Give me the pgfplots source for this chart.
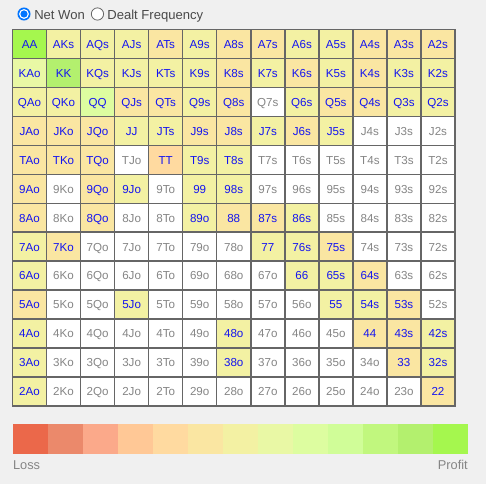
\documentclass[border=0pt]{standalone}
\usepackage{pgfplots}
\pgfplotsset{compat=1.18}
\usepackage{pgfplotstable}
\usepackage{fontspec}
\setmainfont{Liberation Sans}
\definecolor{bgcol}{HTML}{F0F0F0}
\definecolor{gridcol}{HTML}{666666}
\definecolor{lblblue}{HTML}{1414F0}
\definecolor{lblgray}{HTML}{858585}
\definecolor{hdrcol}{HTML}{4A4A4A}
\definecolor{radioblue}{HTML}{0075FF}
\definecolor{lc1}{HTML}{EB684A}
\definecolor{lc2}{HTML}{EB896B}
\definecolor{lc3}{HTML}{FBA98A}
\definecolor{lc4}{HTML}{FFC896}
\definecolor{lc5}{HTML}{FFDAA0}
\definecolor{lc6}{HTML}{FAE6A2}
\definecolor{lc7}{HTML}{F3F1A3}
\definecolor{lc8}{HTML}{E9F8A5}
\definecolor{lc9}{HTML}{DDFDA0}
\definecolor{lc10}{HTML}{D0FD98}
\definecolor{lc11}{HTML}{C1F77E}
\definecolor{lc12}{HTML}{B3F06E}
\definecolor{lc13}{HTML}{A5F74E}
\pgfplotstableread{
x y c label
0 0 13 AA
1 0 7 AKs
2 0 7 AQs
3 0 7 AJs
4 0 6 ATs
5 0 7 A9s
6 0 6 A8s
7 0 6 A7s
8 0 7 A6s
9 0 7 A5s
10 0 6 A4s
11 0 6 A3s
12 0 6 A2s
0 1 8 KAo
1 1 12 KK
2 1 7 KQs
3 1 7 KJs
4 1 7 KTs
5 1 7 K9s
6 1 6 K8s
7 1 7 K7s
8 1 6 K6s
9 1 7 K5s
10 1 6 K4s
11 1 7 K3s
12 1 7 K2s
0 2 7 QAo
1 2 7 QKo
2 2 9 QQ
3 2 6 QJs
4 2 6 QTs
5 2 7 Q9s
6 2 6 Q8s
7 2 0 Q7s
8 2 7 Q6s
9 2 6 Q5s
10 2 6 Q4s
11 2 7 Q3s
12 2 7 Q2s
0 3 6 JAo
1 3 6 JKo
2 3 6 JQo
3 3 7 JJ
4 3 7 JTs
5 3 6 J9s
6 3 6 J8s
7 3 7 J7s
8 3 6 J6s
9 3 7 J5s
10 3 0 J4s
11 3 0 J3s
12 3 0 J2s
0 4 6 TAo
1 4 6 TKo
2 4 6 TQo
3 4 0 TJo
4 4 5 TT
5 4 7 T9s
6 4 7 T8s
7 4 0 T7s
8 4 0 T6s
9 4 0 T5s
10 4 0 T4s
11 4 0 T3s
12 4 0 T2s
0 5 6 9Ao
1 5 0 9Ko
2 5 6 9Qo
3 5 7 9Jo
4 5 0 9To
5 5 7 99
6 5 7 98s
7 5 0 97s
8 5 0 96s
9 5 0 95s
10 5 0 94s
11 5 0 93s
12 5 0 92s
0 6 6 8Ao
1 6 0 8Ko
2 6 6 8Qo
3 6 0 8Jo
4 6 0 8To
5 6 7 89o
6 6 6 88
7 6 6 87s
8 6 7 86s
9 6 0 85s
10 6 0 84s
11 6 0 83s
12 6 0 82s
0 7 7 7Ao
1 7 6 7Ko
2 7 0 7Qo
3 7 0 7Jo
4 7 0 7To
5 7 0 79o
6 7 0 78o
7 7 7 77
8 7 7 76s
9 7 6 75s
10 7 0 74s
11 7 0 73s
12 7 0 72s
0 8 7 6Ao
1 8 0 6Ko
2 8 0 6Qo
3 8 0 6Jo
4 8 0 6To
5 8 0 69o
6 8 0 68o
7 8 0 67o
8 8 7 66
9 8 7 65s
10 8 6 64s
11 8 0 63s
12 8 0 62s
0 9 6 5Ao
1 9 0 5Ko
2 9 0 5Qo
3 9 7 5Jo
4 9 0 5To
5 9 0 59o
6 9 0 58o
7 9 0 57o
8 9 0 56o
9 9 7 55
10 9 7 54s
11 9 6 53s
12 9 0 52s
0 10 7 4Ao
1 10 0 4Ko
2 10 0 4Qo
3 10 0 4Jo
4 10 0 4To
5 10 0 49o
6 10 7 48o
7 10 0 47o
8 10 0 46o
9 10 0 45o
10 10 6 44
11 10 6 43s
12 10 7 42s
0 11 7 3Ao
1 11 0 3Ko
2 11 0 3Qo
3 11 0 3Jo
4 11 0 3To
5 11 0 39o
6 11 7 38o
7 11 0 37o
8 11 0 36o
9 11 0 35o
10 11 0 34o
11 11 6 33
12 11 7 32s
0 12 7 2Ao
1 12 0 2Ko
2 12 0 2Qo
3 12 0 2Jo
4 12 0 2To
5 12 0 29o
6 12 0 28o
7 12 0 27o
8 12 0 26o
9 12 0 25o
10 12 0 24o
11 12 0 23o
12 12 6 22
}\handtable
\begin{document}
\begin{tikzpicture}
\path[use as bounding box] (0,0) rectangle (364.5pt,-363pt);
\fill[bgcol] (0,0) rectangle (364.5pt,-363pt);
% radio buttons
\fill[radioblue] (18pt,-10.5pt) circle (4.9pt);
\fill[white] (18pt,-10.5pt) circle (3.7pt);
\fill[radioblue] (18pt,-10.5pt) circle (2.7pt);
\node[anchor=base west, inner sep=0pt, text=hdrcol, font=\fontsize{9.8pt}{11pt}\selectfont] at (25.5pt,-14.6pt) {Net Won};
\filldraw[fill=white, draw=gray!80!black, line width=0.6pt] (73.1pt,-10.5pt) circle (4.6pt);
\node[anchor=base west, inner sep=0pt, text=hdrcol, font=\fontsize{9.8pt}{11pt}\selectfont] at (80.3pt,-14.6pt) {Dealt Frequency};
\begin{axis}[
  at={(9.375pt,-22.125pt)}, anchor=north west,
  scale only axis, width=331.875pt, height=282.375pt,
  xmin=-0.5, xmax=12.5, ymin=-0.5, ymax=12.5, y dir=reverse,
  xtick={-0.5,0.5,...,12.5}, ytick={-0.5,0.5,...,12.5},
  xticklabels={}, yticklabels={},
  major tick length=0pt,
  grid=major, major grid style={draw=gridcol, line width=1.1pt},
  axis line style={draw=gridcol, line width=1.1pt},
  axis on top,
  colormap={poker}{rgb255=(255,255,255) rgb255=(235,104,74) rgb255=(235,137,107) rgb255=(251,169,138) rgb255=(255,200,150) rgb255=(255,218,160) rgb255=(250,230,162) rgb255=(243,241,163) rgb255=(233,248,165) rgb255=(221,253,160) rgb255=(208,253,152) rgb255=(193,247,126) rgb255=(179,240,110) rgb255=(165,247,78)},
  colormap access=direct,
]
\addplot[matrix plot*, mesh/cols=13, point meta=explicit] table[x=x, y=y, meta=c] {\handtable};
\addplot[only marks, mark=*, mark size=0pt, point meta=explicit symbolic,
  restrict expr to domain={\thisrow{c}}{0.5:20},
  nodes near coords, 
  nodes near coords style={anchor=mid, yshift=-0.6pt, inner sep=0pt, text=lblblue, font=\fontsize{8.7pt}{10pt}\selectfont}]
  table[x=x, y=y, meta=label] {\handtable};
\addplot[only marks, mark=*, mark size=0pt, point meta=explicit symbolic,
  restrict expr to domain={\thisrow{c}}{-0.5:0.5},
  nodes near coords, 
  nodes near coords style={anchor=mid, yshift=-0.6pt, inner sep=0pt, text=lblgray, font=\fontsize{8.7pt}{10pt}\selectfont}]
  table[x=x, y=y, meta=label] {\handtable};
\end{axis}
\begin{axis}[
  at={(9.5pt,-318pt)}, anchor=north west,
  scale only axis, width=341.5pt, height=22.5pt,
  xmin=0, xmax=13, ymin=0, ymax=1, hide axis,
]
\addplot[fill=lc1, draw=none] coordinates {(0,1) (1.02,1)} \closedcycle;
\addplot[fill=lc2, draw=none] coordinates {(1,1) (2.02,1)} \closedcycle;
\addplot[fill=lc3, draw=none] coordinates {(2,1) (3.02,1)} \closedcycle;
\addplot[fill=lc4, draw=none] coordinates {(3,1) (4.02,1)} \closedcycle;
\addplot[fill=lc5, draw=none] coordinates {(4,1) (5.02,1)} \closedcycle;
\addplot[fill=lc6, draw=none] coordinates {(5,1) (6.02,1)} \closedcycle;
\addplot[fill=lc7, draw=none] coordinates {(6,1) (7.02,1)} \closedcycle;
\addplot[fill=lc8, draw=none] coordinates {(7,1) (8.02,1)} \closedcycle;
\addplot[fill=lc9, draw=none] coordinates {(8,1) (9.02,1)} \closedcycle;
\addplot[fill=lc10, draw=none] coordinates {(9,1) (10.02,1)} \closedcycle;
\addplot[fill=lc11, draw=none] coordinates {(10,1) (11.02,1)} \closedcycle;
\addplot[fill=lc12, draw=none] coordinates {(11,1) (12.02,1)} \closedcycle;
\addplot[fill=lc13, draw=none] coordinates {(12,1) (13,1)} \closedcycle;
\end{axis}
\node[anchor=base west, inner sep=0pt, text=lblgray, font=\fontsize{9.6pt}{11pt}\selectfont] at (9.6pt,-352.5pt) {Loss};
\node[anchor=base east, inner sep=0pt, text=lblgray, font=\fontsize{9.6pt}{11pt}\selectfont] at (351pt,-352.5pt) {Profit};
\end{tikzpicture}
\end{document}
